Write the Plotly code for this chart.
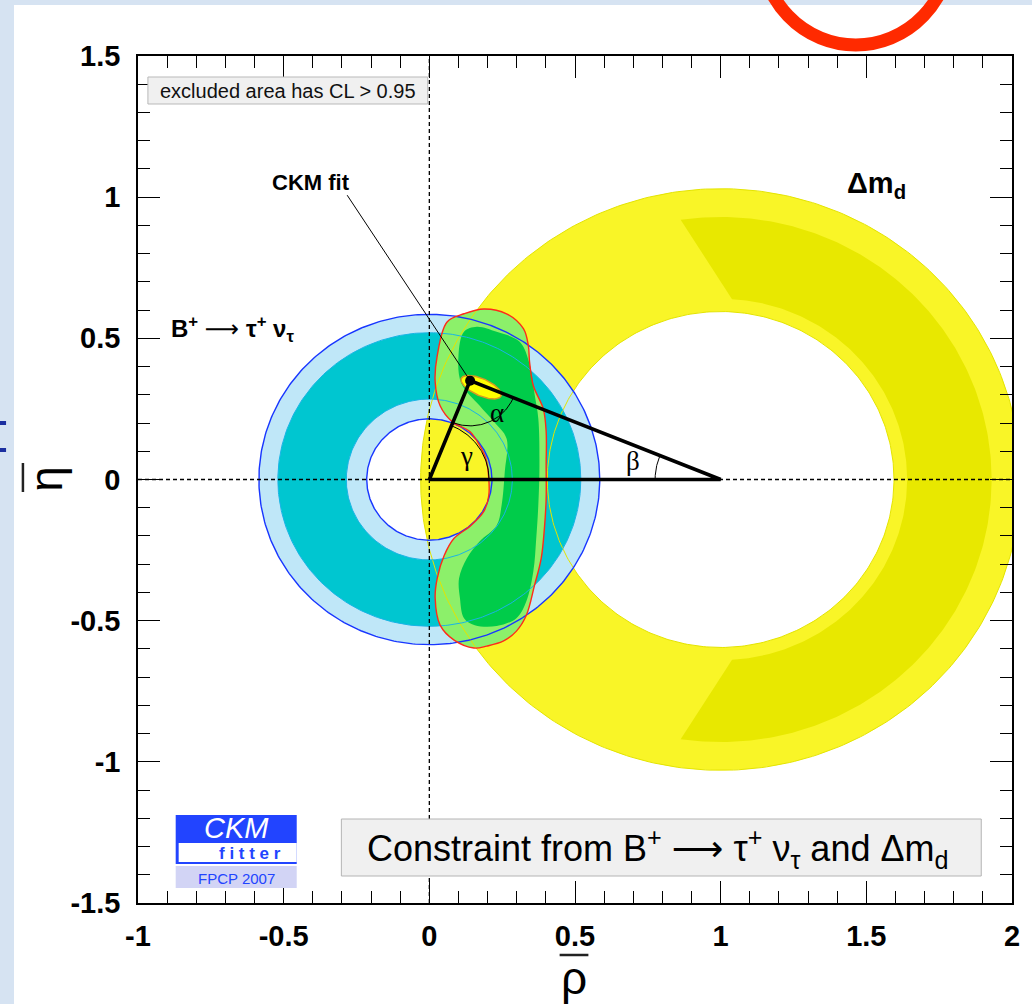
import numpy as np
import plotly.graph_objects as go

# ---------------- axes ----------------
X_RANGE = [-1.0, 2.0]
Y_RANGE = [-1.5, 1.5]
X_TICK_VALUES = [-1, -0.5, 0, 0.5, 1, 1.5, 2]
X_TICK_LABELS = ["-1", "-0.5", "0", "0.5", "1", "1.5", "2"]
Y_TICK_VALUES = [-1.5, -1, -0.5, 0, 0.5, 1, 1.5]
Y_TICK_LABELS = ["-1.5", "-1", "-0.5", "0", "0.5", "1", "1.5"]

# ---------------- constraints ----------------
# Delta m_d : annulus around (1, 0)
DMD_CENTER = (1.0, 0.0)
DMD_95_RADII = (0.595, 1.03)
DMD_68_RADII = (0.64, 0.93)
DMD_68_EDGE_ANGLES = (86.5, 98.5)   # inner / outer half-opening of the dark band (deg)

# B+ -> tau+ nu : annulus around (0, 0)
BTN_CENTER = (0.0, 0.0)
BTN_95_RADII = (0.215, 0.585)
BTN_68_RADII = (0.285, 0.52)

# combined region (95% CL contour)
COMB95_RHO = [0.027, 0.061, 0.119, 0.187, 0.265, 0.323, 0.340, 0.344, 0.357, 0.391,
              0.401, 0.401, 0.401, 0.395, 0.384, 0.361, 0.333, 0.299, 0.255, 0.197,
              0.153, 0.085, 0.037, 0.020, 0.027, 0.051, 0.085, 0.139, 0.187, 0.204,
              0.204, 0.194, 0.173, 0.139, 0.078, 0.037, 0.020]
COMB95_ETA = [0.438, 0.558, 0.587, 0.604, 0.587, 0.534, 0.473, 0.417, 0.332, 0.251,
              0.170, 0.049, -0.067, -0.173, -0.279, -0.375, -0.481, -0.537, -0.572, -0.590,
              -0.597, -0.569, -0.516, -0.420, -0.350, -0.269, -0.208, -0.166, -0.113, -0.057,
              0.004, 0.074, 0.120, 0.170, 0.205, 0.261, 0.346]
# combined region (68% CL contour)
COMB68_RHO = [0.100, 0.119, 0.163, 0.231, 0.310, 0.344, 0.361, 0.374, 0.378, 0.374,
              0.367, 0.357, 0.333, 0.299, 0.231, 0.156, 0.119, 0.105, 0.102, 0.129,
              0.173, 0.231, 0.248, 0.259, 0.265, 0.221, 0.173, 0.110]
COMB68_ETA = [0.438, 0.523, 0.541, 0.523, 0.488, 0.410, 0.304, 0.216, 0.049, -0.092,
              -0.208, -0.325, -0.431, -0.491, -0.519, -0.516, -0.491, -0.420, -0.350, -0.279,
              -0.219, -0.163, -0.092, 0.028, 0.145, 0.205, 0.261, 0.340]

# global CKM fit
FIT_POINT = (0.14, 0.35)
FIT_BLOB_CENTER = (0.178, 0.327)
FIT_BLOB_AXES = (0.075, 0.03)
FIT_BLOB_ANGLE = -25.0

# ---------------- colours ----------------
C_YEL95 = "#f9f527"
C_YEL68 = "#e8e800"
C_LBLUE = "#bfe7f8"
C_TEAL = "#00c6d0"
C_LGREEN = "#8cf06a"
C_DGREEN = "#00cc4a"
C_PAGE = "#d6e3f2"

# ---------------- page geometry (pixels) ----------------
W_PX, H_PX = 1032, 1004
L, R, T, B = 138, 1019, 56, 903


def PX(px):
    return (px - L) / (R - L)


def PY(py):
    return (B - py) / (B - T)


def arc(cx, cy, r, a0, a1, n=240):
    t = np.radians(np.linspace(a0, a1, n))
    return cx + r * np.cos(t), cy + r * np.sin(t)


def ring(center, radii, n=360):
    cx, cy = center
    xo, yo = arc(cx, cy, radii[1], 0, 360, n)
    xi, yi = arc(cx, cy, radii[0], 360, 0, n)
    return np.concatenate([xo, xi]), np.concatenate([yo, yi])


def closed(xs, ys):
    return list(xs) + [xs[0]], list(ys) + [ys[0]]


fig = go.Figure()


def fill(x, y, color, shape="linear"):
    fig.add_trace(go.Scatter(x=x, y=y, mode="lines", fill="toself", fillcolor=color,
                             line=dict(width=0, shape=shape), hoverinfo="skip", showlegend=False))


def line(x, y, color, width, dash=None, shape="linear"):
    fig.add_trace(go.Scatter(x=x, y=y, mode="lines",
                             line=dict(color=color, width=width, dash=dash, shape=shape),
                             hoverinfo="skip", showlegend=False))


# Delta m_d
x, y = ring(DMD_CENTER, DMD_95_RADII)
fill(x, y, C_YEL95)
a_in, a_out = DMD_68_EDGE_ANGLES
xo, yo = arc(DMD_CENTER[0], DMD_CENTER[1], DMD_68_RADII[1], a_out, -a_out)
xi, yi = arc(DMD_CENTER[0], DMD_CENTER[1], DMD_68_RADII[0], -a_in, a_in)
fill(np.concatenate([xo, xi]), np.concatenate([yo, yi]), C_YEL68)

# B -> tau nu
x, y = ring(BTN_CENTER, BTN_95_RADII)
fill(x, y, C_LBLUE)
x, y = ring(BTN_CENTER, BTN_68_RADII)
fill(x, y, C_TEAL)

# combined
x, y = closed(COMB95_RHO, COMB95_ETA)
fill(x, y, C_LGREEN, "spline")
x, y = closed(COMB68_RHO, COMB68_ETA)
fill(x, y, C_DGREEN, "spline")

# contour lines
for r in DMD_95_RADII:
    x, y = arc(DMD_CENTER[0], DMD_CENTER[1], r, 0, 360, 400)
    line(x, y, "#e4e400", 1)
for r in BTN_68_RADII:
    x, y = arc(BTN_CENTER[0], BTN_CENTER[1], r, 0, 360, 400)
    line(x, y, "#19b4e6", 1)
for r in BTN_95_RADII:
    x, y = arc(BTN_CENTER[0], BTN_CENTER[1], r, 0, 360, 400)
    line(x, y, "#1836ff", 1.4)
x, y = closed(COMB95_RHO, COMB95_ETA)
line(x, y, "#ff2a1a", 1.4, shape="spline")

# CKM fit blob
t = np.linspace(0, 2 * np.pi, 120)
th = np.radians(FIT_BLOB_ANGLE)
a, b = FIT_BLOB_AXES
bx = FIT_BLOB_CENTER[0] + a * np.cos(t) * np.cos(th) - b * np.sin(t) * np.sin(th)
by = FIT_BLOB_CENTER[1] + a * np.cos(t) * np.sin(th) + b * np.sin(t) * np.cos(th)
fig.add_trace(go.Scatter(x=bx, y=by, mode="lines", fill="toself", fillcolor="#ffff00",
                         line=dict(color="#d89a20", width=1.5), hoverinfo="skip", showlegend=False))

# dashed axes
line([X_RANGE[0], X_RANGE[1]], [0, 0], "black", 1.3, dash="4px,3px")
line([0, 0], [Y_RANGE[0], Y_RANGE[1]], "black", 1.3, dash="4px,3px")

# unitarity triangle
rho, eta = FIT_POINT
line([0, 1, rho, 0], [0, 0, eta, 0], "black", 3.6)
ang_g = np.degrees(np.arctan2(eta, rho))
x, y = arc(0, 0, 0.205, 0, ang_g, 60)
line(x, y, "black", 1)
a1 = np.degrees(np.arctan2(-eta, -rho))
a2 = np.degrees(np.arctan2(-eta, 1 - rho))
x, y = arc(rho, eta, 0.16, a1, a2, 60)
line(x, y, "black", 1)
b1 = np.degrees(np.arctan2(eta, rho - 1))
x, y = arc(1, 0, 0.225, b1, 180, 40)
line(x, y, "black", 1)

# pointer from label to fit point
line([-0.282, rho], [1.007, eta], "black", 1)
fig.add_trace(go.Scatter(x=[rho], y=[eta], mode="markers",
                         marker=dict(color="black", size=10), hoverinfo="skip", showlegend=False))

# ---------------- annotations ----------------
ann = []
ARROW = "<span style='font-family:DejaVu Sans;font-weight:normal'>⟶</span>"


def text(xv, yv, s, size, ref="paper", color="black", family="Liberation Sans", angle=0,
         weight="normal", style="normal", xanchor="center"):
    ann.append(dict(x=xv, y=yv, xref=ref if ref == "paper" else "x",
                    yref=ref if ref == "paper" else "y", text=s, showarrow=False,
                    xanchor=xanchor, yanchor="middle", textangle=angle,
                    font=dict(size=size, color=color, family=family, weight=weight, style=style)))


text(-0.405, 1.053, "CKM fit", 22, ref="data", weight="bold")
text(-0.893, 0.534, "B<sup>+</sup> " + ARROW + " τ<sup>+</sup> ν<sub>τ</sub>", 24, ref="data",
     weight="bold", xanchor="left")
text(1.535, 1.044, "Δm<sub>d</sub>", 29, ref="data", weight="bold")
text(0.128, 0.085, "γ", 27, ref="data", family="Liberation Serif")
text(0.232, 0.235, "α", 27, ref="data", family="Liberation Serif")
text(0.70, 0.067, "β", 27, ref="data", family="Liberation Serif")

text(PX(289), PY(91), "excluded area has CL &gt; 0.95", 20, color="#111111")
text(PX(662), PY(848), "Constraint from B<sup>+</sup> " + ARROW + " τ<sup>+</sup> ν<sub>τ</sub> and Δm<sub>d</sub>", 36)
text(PX(237), PY(828), "CKM", 29, color="white", style="italic")
text(PX(251), PY(853), "f i t t e r", 17, color="#2244ff", weight="bold")
text(PX(237), PY(878), "FPCP 2007", 15, color="#2244ff")
text(PX(45), PY(479), "η", 46, angle=-90)
text(PX(577), PY(978), "ρ", 46)

shapes = [
    dict(type="rect", xref="paper", yref="paper", x0=PX(13), x1=PX(1040), y0=PY(1010), y1=PY(5),
         fillcolor="white", line=dict(width=0), layer="below"),
    dict(type="rect", xref="paper", yref="paper", x0=PX(-2), x1=PX(5), y0=PY(425), y1=PY(421),
         fillcolor="#1c2fa0", line=dict(width=0)),
    dict(type="rect", xref="paper", yref="paper", x0=PX(-2), x1=PX(5), y0=PY(452), y1=PY(448),
         fillcolor="#1c2fa0", line=dict(width=0)),
    dict(type="circle", xref="paper", yref="paper", x0=PX(765), x1=PX(958), y0=PY(45), y1=PY(-155),
         line=dict(color="#ff2a00", width=13)),
    dict(type="rect", xref="paper", yref="paper", x0=PX(148), x1=PX(430), y0=PY(104), y1=PY(77),
         fillcolor="#f0f0f0", line=dict(color="#b9b9b9", width=1)),
    dict(type="rect", xref="paper", yref="paper", x0=PX(343), x1=PX(988), y0=PY(876), y1=PY(819),
         fillcolor="#f0f0f0", line=dict(color="#b4b4b4", width=1)),
    dict(type="rect", xref="paper", yref="paper", x0=PX(176), x1=PX(298), y0=PY(864), y1=PY(815),
         fillcolor="#2244ff", line=dict(width=0)),
    dict(type="rect", xref="paper", yref="paper", x0=PX(179), x1=PX(298), y0=PY(862), y1=PY(843),
         fillcolor="white", line=dict(width=0)),
    dict(type="rect", xref="paper", yref="paper", x0=PX(176), x1=PX(298), y0=PY(888), y1=PY(866),
         fillcolor="#d2d4f5", line=dict(width=0)),
    dict(type="line", xref="paper", yref="paper", x0=PX(22), x1=PX(22), y0=PY(492), y1=PY(463),
         line=dict(color="#222222", width=2.5)),
    dict(type="line", xref="paper", yref="paper", x0=PX(563), x1=PX(592), y0=PY(955), y1=PY(955),
         line=dict(color="#222222", width=2.5)),
]

tickfont = dict(family="Liberation Sans", size=29, color="black", weight="bold")
axis_common = dict(showgrid=False, zeroline=False, showline=True, linecolor="black", linewidth=1.5,
                   mirror="ticks", ticks="inside", ticklen=22, tickwidth=1.2, tickcolor="black",
                   tickmode="array", tickfont=tickfont,
                   minor=dict(ticks="inside", ticklen=12, tickwidth=1.1, tickcolor="black",
                              dtick=0.1, tick0=0, showgrid=False))

fig.update_layout(
    width=W_PX, height=H_PX, autosize=False,
    margin=dict(l=L, r=W_PX - R, t=T, b=H_PX - B, pad=0),
    paper_bgcolor=C_PAGE, plot_bgcolor="white",
    xaxis=dict(range=X_RANGE, tickvals=X_TICK_VALUES, ticktext=X_TICK_LABELS,
               ticklabelstandoff=6, **axis_common),
    yaxis=dict(range=Y_RANGE, tickvals=Y_TICK_VALUES, ticktext=Y_TICK_LABELS,
               ticklabelstandoff=10, **axis_common),
    annotations=ann, shapes=shapes, showlegend=False,
)

fig.write_html(
    "out.html",
    config={"displayModeBar": False},
    post_script="document.body.style.margin='0';document.body.style.overflow='hidden';"
                "document.body.style.background='" + C_PAGE + "';",
)
